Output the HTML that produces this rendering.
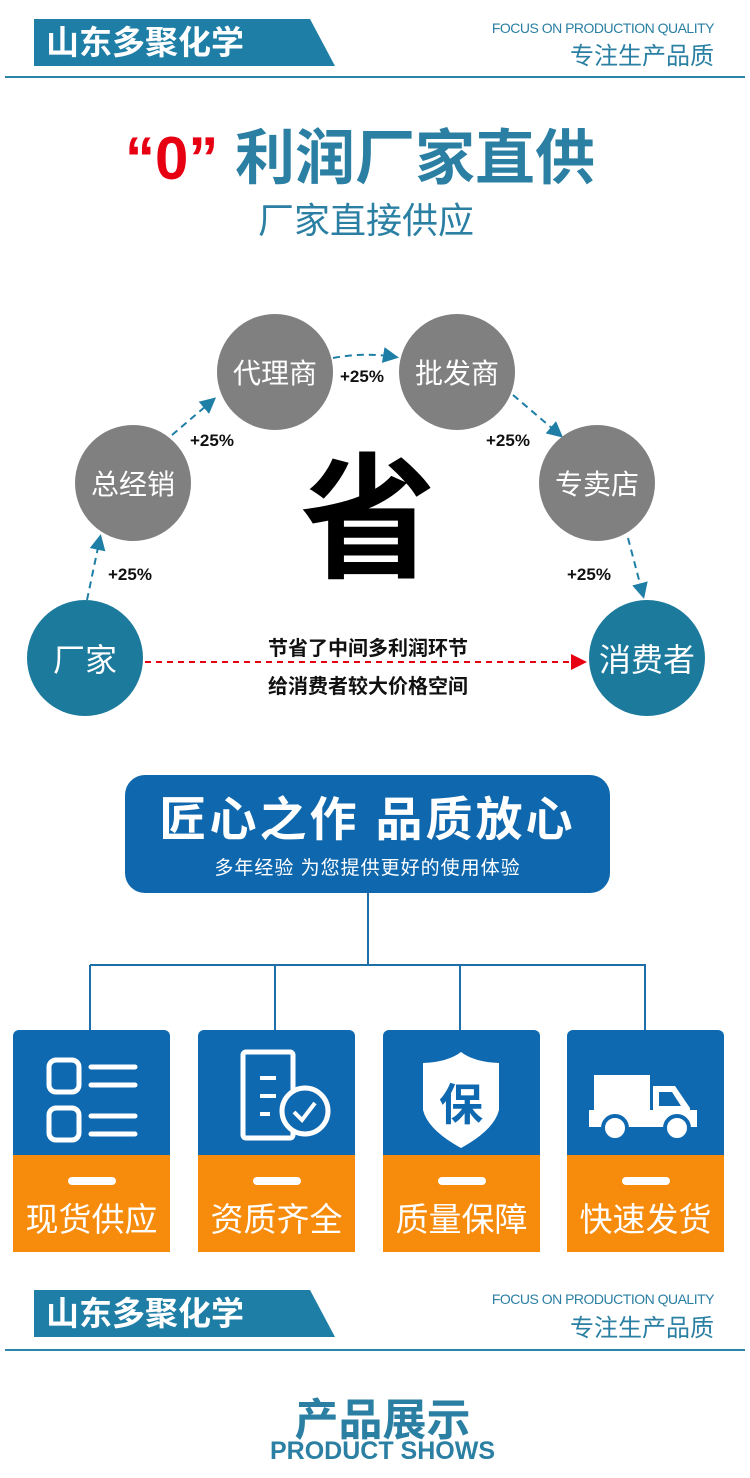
<!DOCTYPE html>
<html><head><meta charset="utf-8"><style>
body{margin:0;width:750px;height:1478px;background:#fff;position:relative;overflow:hidden;font-family:"Liberation Sans","Noto Sans CJK SC",sans-serif}
.a{position:absolute}
.hd{position:absolute;left:34px;width:301px;height:47px;background:#1f7ea6;clip-path:polygon(0 0,276px 0,301px 47px,0 47px);color:#fff;font-size:33px;font-weight:bold;line-height:47px;padding-left:12px;box-sizing:border-box}
.en{position:absolute;right:36px;font-size:14px;color:#2a7fa3;letter-spacing:-0.5px}
.cn{position:absolute;right:36px;font-size:24px;color:#2a7fa3}
.ln{position:absolute;left:5px;width:740px;height:2px;background:#2a85a8}
.c{position:absolute;width:116px;height:116px;border-radius:50%;background:#808080;color:#fff;font-size:28px;display:flex;align-items:center;justify-content:center}
.t{background:#1c7a9c;font-size:32px}
.p{position:absolute;font-size:17px;font-weight:bold;color:#111}
.bx{position:absolute;top:1030px;width:157px;height:222px;border-radius:6px 6px 0 0;overflow:hidden;background:#0f69b0}
.bx .o{position:absolute;top:125px;left:0;right:0;bottom:0;background:#f68b0c;color:#fff;font-size:33px;text-align:center}
.bx .o i{display:block;width:48px;height:8px;border-radius:4px;background:#fff;margin:22px auto 8px}
</style></head><body>
<div class="hd" style="top:19px">山东多聚化学</div>
<div class="en" style="top:20px">FOCUS ON PRODUCTION QUALITY</div>
<div class="cn" style="top:36px">专注生产品质</div>
<div class="ln" style="top:76px"></div>

<div class="a" style="left:125px;top:110px;font-size:60px;font-weight:bold;color:#2a7fa3;white-space:nowrap"><span style="color:#e60012">“0”</span>&nbsp;利润厂家直供</div>
<div class="a" style="left:258px;top:192px;font-size:36px;color:#2a7fa3">厂家直接供应</div>

<svg class="a" style="left:0;top:0" width="750" height="760">
<defs><marker id="m" markerWidth="8" markerHeight="8" refX="6" refY="4" orient="auto"><path d="M0,0L8,4L0,8z" fill="#1f7ea6"/></marker>
<marker id="r" markerWidth="8" markerHeight="8" refX="6" refY="4" orient="auto"><path d="M0,0L8,4L0,8z" fill="#e60012"/></marker></defs>
<g stroke="#1f7ea6" stroke-width="2" stroke-dasharray="7,5" fill="none" marker-end="url(#m)">
<path d="M87,600L100,538"/><path d="M172,435L213,400"/><path d="M333,358Q365,352 395,357"/><path d="M513,395L560,435"/><path d="M628,538L643,595"/>
</g>
<path d="M145,662L583,662" stroke="#e60012" stroke-width="2" stroke-dasharray="6,5" marker-end="url(#r)"/>
</svg>
<div class="c" style="left:217px;top:314px">代理商</div>
<div class="c" style="left:399px;top:314px">批发商</div>
<div class="c" style="left:75px;top:425px">总经销</div>
<div class="c" style="left:539px;top:425px">专卖店</div>
<div class="c t" style="left:27px;top:600px">厂家</div>
<div class="c t" style="left:589px;top:600px">消费者</div>
<div class="p" style="left:108px;top:565px">+25%</div>
<div class="p" style="left:190px;top:431px">+25%</div>
<div class="p" style="left:340px;top:367px">+25%</div>
<div class="p" style="left:486px;top:431px">+25%</div>
<div class="p" style="left:567px;top:565px">+25%</div>
<div class="a" style="left:300px;top:440px;font-size:136px;font-weight:bold;color:#000;line-height:160px">省</div>
<div class="a" style="left:250px;top:630px;width:236px;text-align:center;font-size:20px;font-weight:bold;line-height:38px;color:#111">节省了中间多利润环节<br>给消费者较大价格空间</div>

<div class="a" style="left:125px;top:775px;width:485px;height:118px;border-radius:20px;background:#0f68ad;color:#fff;text-align:center">
<div style="font-size:47px;font-weight:bold;letter-spacing:3px;margin-top:18px;line-height:54px">匠心之作 品质放心</div>
<div style="font-size:19px;margin-top:6px;letter-spacing:1px">多年经验 为您提供更好的使用体验</div></div>
<svg class="a" style="left:0;top:893px" width="750" height="140"><g stroke="#1c6fa8" stroke-width="2" fill="none"><path d="M368,0V72M90,72H646M90,72V137M275,72V137M460,72V137M645,72V137"/></g></svg>

<div class="bx" style="left:13px"><svg width="157" height="125"><g fill="none" stroke="#fff" stroke-width="5"><rect x="36" y="30" width="30" height="32" rx="7"/><rect x="36" y="78" width="30" height="32" rx="7"/></g><g stroke="#fff" stroke-width="5" stroke-linecap="round"><path d="M78,37H122M78,55H122M78,86H122M78,104H122"/></g></svg><div class="o"><i></i>现货供应</div></div>
<div class="bx" style="left:198px"><svg width="157" height="125"><rect x="45" y="22" width="50" height="86" rx="3" fill="none" stroke="#fff" stroke-width="5"/><g stroke="#fff" stroke-width="4"><path d="M62,48H78M62,66H78M62,84H72"/></g><circle cx="107" cy="81" r="23" fill="#0f69b0" stroke="#fff" stroke-width="5"/><path d="M96,82L104,90L117,73" fill="none" stroke="#fff" stroke-width="4"/></svg><div class="o"><i></i>资质齐全</div></div>
<div class="bx" style="left:383px"><svg width="157" height="125"><path d="M78,22Q65,32 40,33V80Q45,100 78,118Q111,100 116,80V33Q91,32 78,22z" fill="#fff"/><text x="78" y="90" text-anchor="middle" font-size="44" font-weight="bold" fill="#0f69b0" font-family="Noto Sans CJK SC,sans-serif">保</text></svg><div class="o"><i></i>质量保障</div></div>
<div class="bx" style="left:567px"><svg width="157" height="125"><rect x="27" y="45" width="56" height="52" fill="#fff"/><path d="M86,56H108L123,78V97H86z" fill="#fff"/><path d="M92,62H105L114,76H92z" fill="#0f69b0"/><rect x="22" y="80" width="108" height="17" fill="#fff"/><circle cx="48" cy="98" r="12" fill="#fff" stroke="#0f69b0" stroke-width="4"/><circle cx="110" cy="98" r="12" fill="#fff" stroke="#0f69b0" stroke-width="4"/></svg><div class="o"><i></i>快速发货</div></div>

<div class="hd" style="top:1290px">山东多聚化学</div>
<div class="en" style="top:1291px">FOCUS ON PRODUCTION QUALITY</div>
<div class="cn" style="top:1308px">专注生产品质</div>
<div class="ln" style="top:1349px"></div>
<div class="a" style="left:0;width:765px;top:1384px;text-align:center;font-size:44px;font-weight:bold;color:#2a7fa3">产品展示</div>
<div class="a" style="left:0;width:765px;top:1437px;text-align:center;font-size:25px;font-weight:bold;color:#2a7fa3">PRODUCT SHOWS</div>
</body></html>
